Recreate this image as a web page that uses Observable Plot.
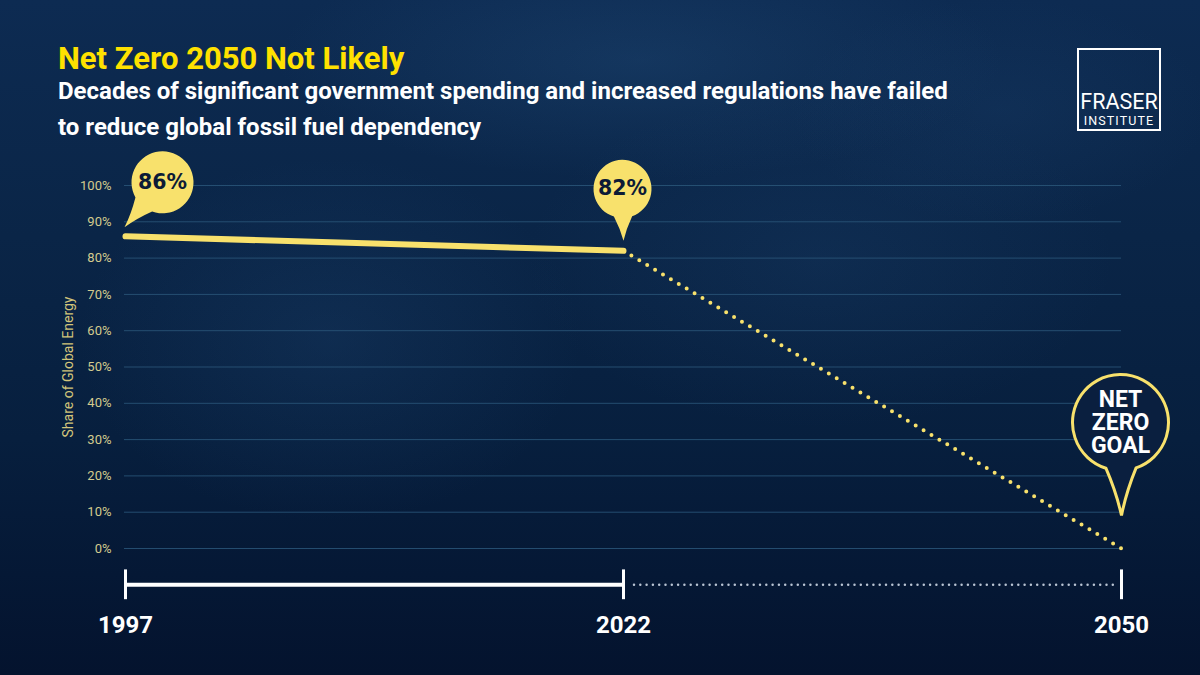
<!DOCTYPE html>
<html>
<head>
<meta charset="utf-8">
<script src="https://cdn.jsdelivr.net/npm/d3@7"></script>
<script src="https://cdn.jsdelivr.net/npm/@observablehq/plot@0.6"></script>
<style>
html,body{margin:0;padding:0;}
body{width:1200px;height:675px;overflow:hidden;font-family:Roboto,"Noto Sans",sans-serif;}
#stage{position:relative;width:1200px;height:675px;overflow:hidden;
  background:
    radial-gradient(ellipse 520px 170px at 640px 60px, rgba(48,100,150,0.22), rgba(0,0,0,0) 70%),
    radial-gradient(ellipse 360px 260px at 330px 340px, rgba(40,85,135,0.20), rgba(0,0,0,0) 70%),
    radial-gradient(ellipse 420px 240px at 820px 260px, rgba(40,85,135,0.16), rgba(0,0,0,0) 70%),
    radial-gradient(ellipse 300px 160px at 1000px 110px, rgba(40,85,135,0.15), rgba(0,0,0,0) 70%),
    linear-gradient(180deg,#0d2b52 0%,#0a2547 35%,#071f3e 65%,#051835 85%,#04132e 100%);}
#title{position:absolute;left:58px;top:43px;font-size:31px;font-weight:700;color:#FFE100;line-height:1;white-space:nowrap;}
#subtitle{position:absolute;left:58px;top:73px;font-size:24px;font-weight:700;color:#ffffff;line-height:36px;white-space:nowrap;}
#logo{position:absolute;left:1077px;top:48px;width:80px;height:79px;border:2px solid #ffffff;}
.lg{position:absolute;left:0;width:80px;text-align:center;color:#ffffff;line-height:1;white-space:nowrap;}
#chart{position:absolute;left:0;top:145px;}
</style>
</head>
<body>
<div id="stage">
  <div id="title">Net Zero 2050 Not Likely</div>
  <div id="subtitle">Decades of significant government spending and increased regulations have failed<br>to reduce global fossil fuel dependency</div>
  <div id="logo">
    <div class="lg" style="top:41px;font-size:21.5px;">FRASER</div>
    <div class="lg" style="top:65px;font-size:12.5px;letter-spacing:1.1px;">INSTITUTE</div>
  </div>
  <div id="chart"></div>
</div>
<script>
// ---- data ----
const years = [1997, 2022, 2050];
const actualYears = [1997, 2022];
const actualShare = [86, 82];
const actualLabels = ["86%", "82%"];
const projectionYears = [2022, 2050];
const projectionShare = [82, 0];
const goalYear = [2050];
const goalShare = [0];
const goalLabel = ["NET\nZERO\nGOAL"];
const yTicks = [0, 10, 20, 30, 40, 50, 60, 70, 80, 90, 100];
const yLabel = "Share of Global Energy";
const timelineSegments = [
  {from: 1997, to: 2022, kind: "past"},
  {from: 2022, to: 2050, kind: "future"}
];

// ---- derived tables ----
const actual = actualYears.map((year, i) => ({year, share: actualShare[i], label: actualLabels[i]}));
const projection = projectionYears.map((year, i) => ({year, share: projectionShare[i]}));
const goal = goalYear.map((year, i) => ({year, share: goalShare[i], label: goalLabel[i]}));

// ---- styling ----
const YELLOW = "#f8e16c";
const TIMELINE = -10;   // timeline level below the 0% line (in y units)

function bubble(cx, cy, r, tx, ty, delta) {
  return {
    draw(ctx) {
      const a = Math.atan2(ty - cy, tx - cx);
      const ex = cx + r * Math.cos(a), ey = cy + r * Math.sin(a);
      const px = tx + 0.5 * (ex - tx), py = ty + 0.5 * (ey - ty);
      const b1x = cx + r * Math.cos(a - delta), b1y = cy + r * Math.sin(a - delta);
      const b2x = cx + r * Math.cos(a + delta), b2y = cy + r * Math.sin(a + delta);
      const k = 0.35;
      const m1x = (tx + b1x) / 2, m1y = (ty + b1y) / 2;
      const m2x = (tx + b2x) / 2, m2y = (ty + b2y) / 2;
      ctx.moveTo(tx, ty);
      ctx.quadraticCurveTo(m1x + k * (px - m1x), m1y + k * (py - m1y), b1x, b1y);
      ctx.arc(cx, cy, r, a - delta, a + delta, true);
      ctx.quadraticCurveTo(m2x + k * (px - m2x), m2y + k * (py - m2y), tx, ty);
      ctx.closePath();
    }
  };
}

const chart = Plot.plot({
  width: 1200,
  height: 530,
  marginTop: 40,
  marginBottom: 127,
  marginLeft: 124,
  marginRight: 79,
  style: {background: "transparent", overflow: "visible", fontFamily: "Roboto, sans-serif"},
  x: {type: "point", domain: years, padding: 0, align: 0.5},
  y: {domain: [0, 100]},
  marks: [
    Plot.ruleY(yTicks, {stroke: "#2a5679", strokeWidth: 1, strokeOpacity: 0.85}),
    Plot.axisY(yTicks, {tickSize: 0, tickPadding: 13, tickFormat: d => d + "%", fill: "#d3cb8e", fontSize: 13, label: null}),
    Plot.text([yLabel], {frameAnchor: "left", textAnchor: "middle", dx: -55.5, rotate: -90, fill: "#d1c47a", fontSize: 14}),
    Plot.axisX(years, {tickSize: 0, tickPadding: 67, tickFormat: d => String(d), fontSize: 24, fontWeight: "bold", fill: "#ffffff", label: null}),
    // timeline
    Plot.ruleY(timelineSegments.filter(d => d.kind === "past"), {y: TIMELINE, x1: "from", x2: "to", stroke: "#ffffff", strokeWidth: 4}),
    Plot.ruleY(timelineSegments.filter(d => d.kind === "future"), {y: TIMELINE, x1: "from", x2: "to", insetLeft: 11, insetRight: 7, stroke: "#b9c4d3", strokeWidth: 2.5, strokeDasharray: "0 6.3", strokeLinecap: "round"}),
    Plot.ruleX(years, {y1: TIMELINE + 4.1, y2: TIMELINE - 4.1, stroke: "#ffffff", strokeWidth: 3}),
    // data lines
    Plot.line(projection, {x: "year", y: "share", stroke: YELLOW, strokeWidth: 4, strokeDasharray: "0 9.2", strokeLinecap: "round"}),
    Plot.line(actual, {x: "year", y: "share", stroke: YELLOW, strokeWidth: 6, strokeLinecap: "round"}),
    // bubbles
    Plot.dot(actual.filter(d => d.year === 1997), {x: "year", y: "share", symbol: bubble(37, -54, 31, -1, -9, 0.36), fill: YELLOW, stroke: "none"}),
    Plot.dot(actual.filter(d => d.year === 2022), {x: "year", y: "share", symbol: bubble(-1, -62, 29, 0, -10, 0.32), fill: YELLOW, stroke: "none"}),
    Plot.dot(goal, {x: "year", y: "share", symbol: bubble(-1, -126, 48, 0, -33, 0.32), fill: "#0a1f3f", stroke: YELLOW, strokeWidth: 3}),
    Plot.text(actual.filter(d => d.year === 1997), {x: "year", y: "share", text: "label", dx: 37, dy: -54, fontFamily: "DejaVu Sans", fontWeight: "bold", fontSize: 20.5, fill: "#0c1b36"}),
    Plot.text(actual.filter(d => d.year === 2022), {x: "year", y: "share", text: "label", dx: -1, dy: -62, fontFamily: "DejaVu Sans", fontWeight: "bold", fontSize: 20.5, fill: "#0c1b36"}),
    Plot.text(goal, {x: "year", y: "share", text: "label", dx: -1, dy: -126, fontFamily: "Roboto", fontWeight: "bold", fontSize: 23, lineHeight: 1, fill: "#ffffff"})
  ]
});
document.getElementById("chart").appendChild(chart);
</script>
</body>
</html>
